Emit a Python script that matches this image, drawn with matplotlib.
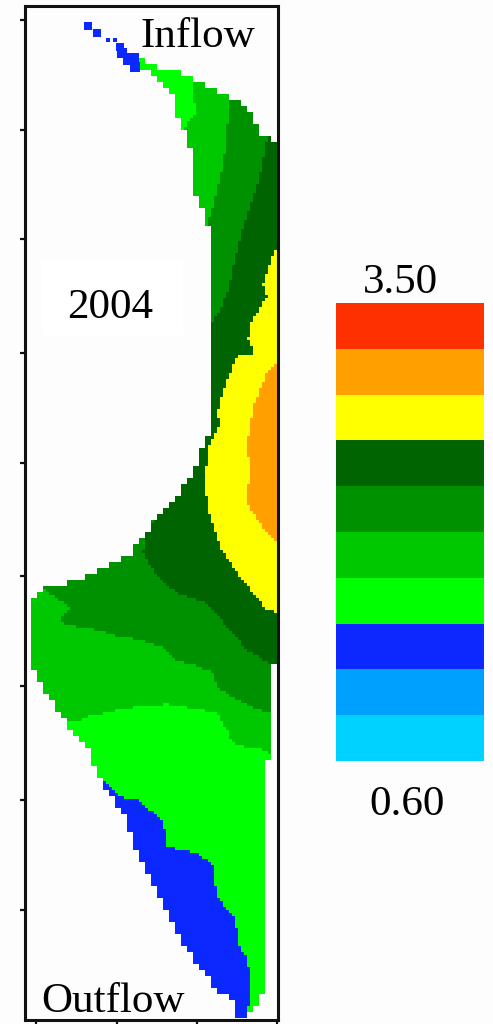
import numpy as np
import matplotlib.pyplot as plt
from matplotlib.colors import ListedColormap
from matplotlib.path import Path

W, H = 493, 1024
plt.rcParams['font.family'] = ['Liberation Serif', 'DejaVu Serif']

outline = [(140, 58), (160, 68), (175, 71), (193, 80), (213, 88), (233, 98), (248, 108), (260, 133),
           (278, 143), (278, 660), (272, 662), (272, 760), (266, 763), (266, 990), (260, 1000),
           (250, 1012), (242, 1022), (238, 1020), (233, 1000), (217, 990), (197, 963), (180, 937),
           (167, 913), (150, 877), (133, 843), (127, 820), (110, 795), (100, 780), (88, 750),
           (72, 730), (57, 710), (43, 690), (33, 670), (33, 597), (45, 588), (68, 582), (102, 570),
           (130, 555), (143, 537), (160, 513), (177, 497), (193, 473), (203, 443), (212, 427),
           (212, 247), (208, 227), (202, 207), (195, 193), (193, 157), (185, 133), (177, 113),
           (172, 92), (157, 78), (140, 68)]
band_mid = [(193, 70), (195, 113), (180, 133), (150, 500), (0, 560), (0, 700), (40, 722), (77, 722),
            (87, 717), (127, 708), (167, 704), (190, 708), (217, 713), (227, 730), (233, 743),
            (250, 748), (267, 750), (272, 760), (290, 765), (290, 70)]
band_green = [(232, 90), (230, 100), (223, 167), (213, 207), (205, 230), (150, 500), (40, 585),
              (45, 590), (70, 607), (62, 617), (63, 625), (90, 628), (113, 635), (140, 640),
              (163, 648), (177, 660), (200, 667), (213, 673), (217, 687), (233, 698), (260, 710),
              (273, 713), (290, 715), (290, 90)]
band_dark = [(270, 130), (267, 140), (257, 187), (243, 227), (227, 293), (220, 310), (205, 333),
             (190, 470), (147, 530), (143, 553), (157, 577), (177, 593), (207, 603), (227, 627),
             (247, 650), (277, 668), (290, 670), (290, 130)]
band_yellow = [(277, 248), (272, 257), (263, 283), (267, 297), (250, 323), (248, 340), (255, 353),
               (237, 357), (227, 380), (217, 413), (220, 423), (208, 447), (205, 483), (208, 510),
               (220, 547), (240, 577), (267, 610), (277, 612), (290, 612), (290, 248)]
band_orange = [(277, 362), (267, 373), (253, 407), (247, 447), (250, 467), (247, 503), (263, 527),
               (277, 542), (290, 542), (290, 362)]
band_blue = [(100, 780), (110, 785), (120, 797), (137, 800), (163, 820), (167, 847), (193, 852),
             (212, 862), (217, 897), (235, 918), (240, 950), (248, 957), (250, 997), (247, 1013),
             (242, 1030), (80, 1030)]
inflow_x = [88, 97, 108, 115, 120, 122, 128, 133, 135]
inflow_y = [26, 33, 40, 40, 47, 53, 60, 59, 67]
inflow_s = [28, 36, 12, 12, 36, 50, 60, 80, 45]

legend_colors = ['#ff3000', '#ff9f00', '#ffff00', '#006400', '#009100',
                 '#00c800', '#00ff00', '#0a28ff', '#00a0ff', '#00d2ff']
y_ticks = [20, 130, 239, 353, 463, 576, 686, 800, 910]
x_ticks = [36, 117, 197, 277]

# map cell index -> colour in legend_colors
layers = [(band_mid, 5), (band_green, 4), (band_dark, 3), (band_yellow, 2),
          (band_orange, 1), (band_blue, 7)]
cell = 3
x_edges = np.arange(25, 283, cell)
y_edges = np.arange(4, 1030, cell)
xc, yc = np.meshgrid((x_edges[:-1] + x_edges[1:]) / 2, (y_edges[:-1] + y_edges[1:]) / 2)
pts = np.column_stack([xc.ravel(), yc.ravel()])
grid = np.full(len(pts), 6.0)
for poly, idx in layers:
    grid[Path(poly).contains_points(pts)] = idx
# the outer edge is stepped coarser than the colour bands
coarse = 2 * cell
snapped = (np.floor((pts - [25, 4]) / coarse) + 0.5) * coarse + [25, 4]
inside = Path(outline).contains_points(snapped)
grid = np.ma.masked_where(~inside, grid).reshape(xc.shape)

fig = plt.figure(figsize=(W / 100, H / 100), dpi=100, facecolor='#fdfdfd')

ax = fig.add_axes([25 / W, 1 - 1020 / H, 253 / W, 1014 / H])
ax.set_facecolor('#fdfdfd')
cmap = ListedColormap(legend_colors)
cmap.set_bad((1, 1, 1, 0))
ax.pcolormesh(x_edges, y_edges, grid, cmap=cmap, vmin=-0.5, vmax=9.5, antialiased=False)
ax.scatter(inflow_x, inflow_y, s=inflow_s, color='#0a28ff', linewidths=0, marker='s')
ax.set_xlim(25, 278)
ax.set_ylim(1020, 6)
ax.set_xticks(x_ticks)
ax.set_yticks(y_ticks)
ax.tick_params(labelleft=False, labelbottom=False, direction='out', length=3.5, width=1.6, color='#111111')
for s in ax.spines.values():
    s.set_linewidth(2.2)
    s.set_color('#111111')
ax.fill_between([42, 183], 260, 335, color='white', lw=0, zorder=3)

cax = fig.add_axes([336 / W, 1 - 761 / H, 148 / W, 458 / H])
for i, c in enumerate(legend_colors):
    cax.bar(0.5, 1, width=1, bottom=i, color=c, lw=0)
cax.set_xlim(0, 1)
cax.set_ylim(len(legend_colors), 0)
cax.axis('off')

def label(x, y, s):
    fig.text(x / W, 1 - y / H, s, fontsize=31, ha='center', va='baseline', color='black')

label(198, 47, 'Inflow')
label(110, 318, '2004')
label(113, 1012, 'Outflow')
label(400, 293, '3.50')
label(407, 815, '0.60')

fig.savefig('out.png', dpi=100, facecolor=fig.get_facecolor())
